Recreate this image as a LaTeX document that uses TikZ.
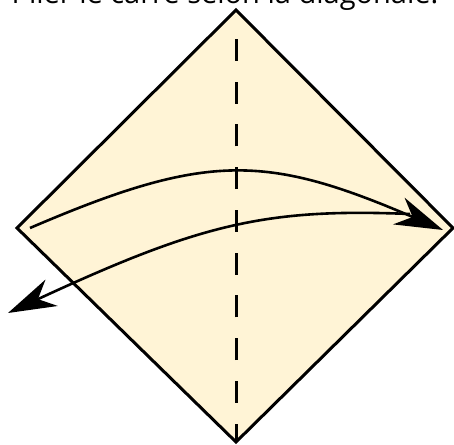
\documentclass[tikz,border=0pt]{standalone}
\usepackage{fontspec}
\setmainfont{Open Sans}
\usetikzlibrary{arrows.meta}
\definecolor{paper}{HTML}{FFF4D6}
\begin{document}
\begin{tikzpicture}[x=1pt,y=1pt,>={Stealth[length=48pt,width=29pt,inset=15pt]}]
      \tikzset{sheet/.style={draw, line width=3pt, fill=paper},
        valley/.style={line width=3pt, dash pattern=on 22pt off 20.75pt, dash phase=3.7pt},
        move/.style={line width=2.6pt, ->}}
      \useasboundingbox (0,0) rectangle (454,444);
      \coordinate (top) at (236,434);
      \coordinate (rgt) at (453,216);
      \coordinate (bot) at (236,2);
      \coordinate (lft) at (17,216);
      \coordinate (fromL) at (30,216);
      \coordinate (toR) at (443,214);
      \coordinate (fromR) at (410,230);
      \coordinate (toL) at (8,131);
      \node[font=\fontsize{29}{34}\selectfont, anchor=base] (title) at (225,440) {Plier le carré selon la diagonale.};
      \draw[sheet] (top) -- (rgt) -- (bot) -- (lft) -- cycle;
      \draw[valley, shorten >=10pt] (bot) -- (top);
      \draw[move] (fromL) .. controls (207,292) and (266,290) .. (toR);
      \draw[move] (fromR) .. controls (265,236) and (200,220) .. (toL);
    \end{tikzpicture}
\end{document}
